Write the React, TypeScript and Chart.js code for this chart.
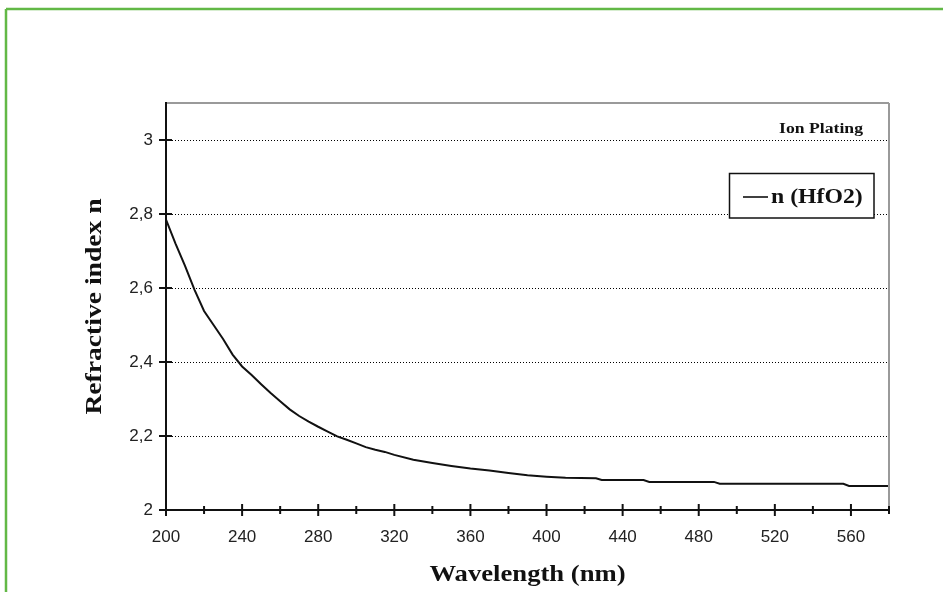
import React, { useEffect, useRef } from 'react';
import { Chart, registerables } from 'chart.js';

Chart.register(...registerables);

// ---- data ----
const wavelengths = [
  200, 205, 210, 215, 220, 225, 230, 235, 240, 245, 250, 255, 260, 265, 270, 275, 280, 285, 290, 295,
  300, 305, 310, 315, 320, 330, 340, 350, 360, 370, 380, 390, 400, 410, 426, 429, 451, 454, 488, 491,
  556, 559, 580,
];
const refractiveIndex = [
  2.785, 2.72, 2.66, 2.595, 2.538, 2.5, 2.462, 2.42, 2.388, 2.365, 2.34, 2.316, 2.294, 2.272, 2.254,
  2.239, 2.225, 2.212, 2.199, 2.19, 2.18, 2.17, 2.163, 2.157, 2.149, 2.136, 2.127, 2.119, 2.112, 2.107,
  2.1, 2.094, 2.09, 2.087, 2.086, 2.081, 2.081, 2.076, 2.076, 2.071, 2.071, 2.065, 2.065,
];
const seriesLabel = 'n (HfO2)';
const xTitle = 'Wavelength (nm)';
const yTitle = 'Refractive index n';
const noteText = 'Ion Plating';
const xMin = 200;
const xMax = 580;
const xStep = 20;
const xLabelStep = 40;
const yMin = 2;
const yMax = 3.1;
const yStep = 0.2;
const yGridMax = 3.0;

const W = 943;
const H = 592;

const line = (ctx: CanvasRenderingContext2D, x1: number, y1: number, x2: number, y2: number) => {
  ctx.beginPath();
  ctx.moveTo(x1, y1);
  ctx.lineTo(x2, y2);
  ctx.stroke();
};

const stretchText = (
  ctx: CanvasRenderingContext2D,
  text: string,
  x: number,
  y: number,
  sx: number,
  angle = 0,
) => {
  ctx.save();
  ctx.translate(x, y);
  if (angle) ctx.rotate(angle);
  ctx.scale(sx, 1);
  ctx.fillText(text, 0, 0);
  ctx.restore();
};

const decor = {
  id: 'decor',
  beforeDatasetsDraw(chart: any) {
    const { ctx, chartArea: a, scales } = chart;
    const y = scales.y;
    ctx.save();
    ctx.strokeStyle = '#000';
    ctx.lineWidth = 1.2;
    ctx.setLineDash([1, 2]);
    y.ticks.forEach((t: any) => {
      if (t.value > yMin + 1e-6 && t.value <= yGridMax + 1e-6) {
        const py = Math.round(y.getPixelForValue(t.value)) + 0.5;
        line(ctx, a.left, py, a.right, py);
      }
    });
    ctx.restore();
  },
  afterDraw(chart: any) {
    const { ctx, chartArea: a, scales } = chart;
    const x = scales.x;
    const y = scales.y;
    ctx.save();
    // outer green frame
    ctx.strokeStyle = '#62b846';
    ctx.lineWidth = 2.5;
    line(ctx, 6, 9, W + 2, 9);
    line(ctx, 6, 9, 6, H + 2);

    // grey top/right frame
    ctx.strokeStyle = '#9a9a9a';
    ctx.lineWidth = 2;
    line(ctx, a.left, a.top, a.right, a.top);
    line(ctx, a.right, a.top, a.right, a.bottom);

    // black axes
    ctx.strokeStyle = '#111';
    ctx.lineWidth = 2;
    line(ctx, a.left, a.top - 1, a.left, a.bottom + 1);
    line(ctx, a.left - 1, a.bottom, a.right + 1, a.bottom);

    // y ticks
    y.ticks.forEach((t: any) => {
      if (t.value <= yGridMax + 1e-6) {
        const py = y.getPixelForValue(t.value);
        line(ctx, a.left - 7, py, a.left + 6, py);
      }
    });
    // x ticks
    x.ticks.forEach((t: any) => {
      const px = x.getPixelForValue(t.value);
      const major = Math.abs((t.value - xMin) % xLabelStep) < 1e-6;
      if (major) line(ctx, px, a.bottom - 6, px, a.bottom + 6);
      else line(ctx, px, a.bottom - 4, px, a.bottom + 4);
    });

    // axis titles
    ctx.fillStyle = '#111';
    ctx.font = 'bold 24px "Liberation Serif"';
    ctx.textAlign = 'center';
    ctx.textBaseline = 'middle';
    stretchText(ctx, xTitle, (a.left + a.right) / 2, 575, 1.11);
    stretchText(ctx, yTitle, 95, (a.top + a.bottom) / 2, 1.15, -Math.PI / 2);

    // note
    ctx.font = 'bold 15.5px "Liberation Serif"';
    ctx.textAlign = 'right';
    ctx.textBaseline = 'alphabetic';
    stretchText(ctx, noteText, 863, 133, 1.14);

    // legend
    const ds = chart.data.datasets[0];
    ctx.fillStyle = '#fff';
    ctx.fillRect(729, 173, 145, 45);
    ctx.strokeStyle = '#111';
    ctx.lineWidth = 1.5;
    ctx.strokeRect(729.5, 173.5, 144.5, 44.5);
    ctx.strokeStyle = ds.borderColor;
    ctx.lineWidth = 1.6;
    line(ctx, 743, 197, 768, 197);
    ctx.fillStyle = '#111';
    ctx.font = 'bold 22px "Liberation Serif"';
    ctx.textAlign = 'left';
    ctx.textBaseline = 'middle';
    stretchText(ctx, ds.label, 771, 197, 1.08);
    ctx.restore();
  },
};

const fmtY = (v: number) => {
  if (Math.abs(v - yMax) < 1e-6 && Math.abs(v - yGridMax) > 1e-6) return '';
  return (Math.round(v * 10) / 10).toString().replace('.', ',');
};

export default function App() {
  const ref = useRef<HTMLCanvasElement | null>(null);
  useEffect(() => {
    if (!ref.current) return;
    const chart = new Chart(ref.current, {
      type: 'line',
      data: {
        datasets: [
          {
            label: seriesLabel,
            data: wavelengths.map((w, i) => ({ x: w, y: refractiveIndex[i] })),
            borderColor: '#111',
            borderWidth: 2,
            pointRadius: 0,
            tension: 0,
            fill: false,
          },
        ],
      },
      options: {
        animation: false,
        responsive: false,
        devicePixelRatio: 1,
        layout: { padding: { left: 0, top: 103, right: W - 889, bottom: 0 } },
        plugins: { legend: { display: false }, tooltip: { enabled: false } },
        scales: {
          x: {
            type: 'linear',
            min: xMin,
            max: xMax,
            grid: { display: false, drawTicks: false },
            border: { display: false },
            ticks: {
              stepSize: xStep,
              padding: 17,
              color: '#222',
              font: { family: '"Liberation Sans"', size: 17 },
              maxRotation: 0,
              autoSkip: false,
              callback: (v: any) =>
                Math.abs((Number(v) - xMin) % xLabelStep) < 1e-6 && Number(v) < xMax ? String(v) : '',
            },
            afterFit: (s: any) => {
              s.height = H - 510;
            },
          },
          y: {
            type: 'linear',
            min: yMin,
            max: yMax,
            grid: { display: false, drawTicks: false },
            border: { display: false },
            ticks: {
              stepSize: yStep,
              padding: 13,
              color: '#222',
              font: { family: '"Liberation Sans"', size: 17 },
              autoSkip: false,
              callback: (v: any) => fmtY(Number(v)),
            },
            afterFit: (s: any) => {
              s.width = 166;
            },
          },
        },
      },
      plugins: [decor],
    });
    return () => chart.destroy();
  }, []);
  return (
    <div style={{ position: 'fixed', left: 0, top: 0, width: W, height: H, background: '#fff' }}>
      <canvas ref={ref} width={W} height={H} style={{ display: 'block', width: W, height: H }} />
    </div>
  );
}
